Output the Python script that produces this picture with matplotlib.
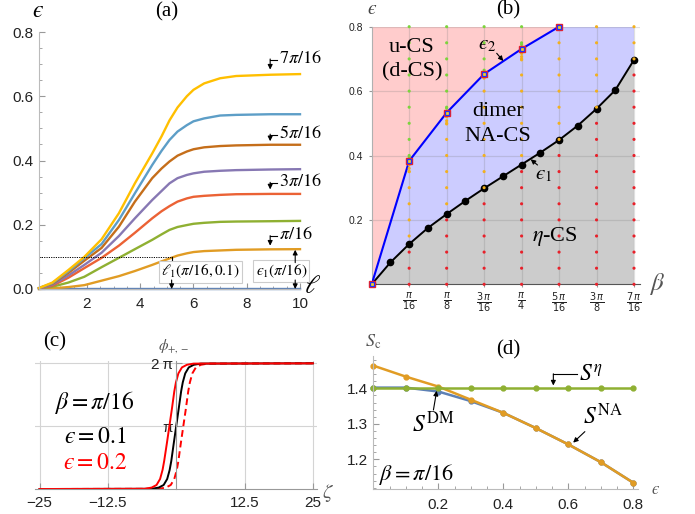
import numpy as np
import matplotlib.pyplot as plt
from matplotlib.ticker import MultipleLocator

plt.rcParams['mathtext.fontset'] = 'stix'
plt.rcParams['font.family'] = ['Liberation Sans', 'DejaVu Sans']

W, H = 695, 514
PI = np.pi
EPS = '\u03f5'  # lunate epsilon

# Mathematica default palette
C_BLUE, C_ORANGE, C_GREEN, C_RED = '#5E81B5', '#E19C24', '#8FB032', '#EB6235'
C_PURPLE, C_BROWN, C_LBLUE, C_YELLOW = '#8778B3', '#C56E1A', '#5D9EC7', '#FFBF00'

# ---------------- (a) eps(ell) for beta = k*pi/16 ----------------
ell = [0.2, 0.7, 1.3, 1.9, 2.55, 3.2, 3.8, 4.45, 4.8, 5.1, 5.4, 5.75, 6.0, 6.4, 7.0, 7.6, 8.9, 10.0]
eps_b0 = [0.0] * len(ell)
eps_b1 = [0.0, 0.002, 0.006, 0.012, 0.026, 0.040, 0.056, 0.075, 0.086, 0.095, 0.104, 0.111, 0.115, 0.118, 0.120, 0.122, 0.1235, 0.124]
eps_b2 = [0.001, 0.007, 0.020, 0.038, 0.068, 0.097, 0.124, 0.153, 0.170, 0.184, 0.193, 0.199, 0.203, 0.206, 0.209, 0.210, 0.211, 0.212]
eps_b3 = [0.002, 0.010, 0.035, 0.065, 0.097, 0.135, 0.175, 0.220, 0.242, 0.258, 0.272, 0.282, 0.287, 0.290, 0.293, 0.295, 0.296, 0.296]
eps_b4 = [0.002, 0.013, 0.042, 0.075, 0.113, 0.165, 0.220, 0.277, 0.305, 0.329, 0.345, 0.355, 0.360, 0.365, 0.368, 0.370, 0.372, 0.373]
eps_b5 = [0.003, 0.016, 0.050, 0.088, 0.128, 0.194, 0.272, 0.345, 0.375, 0.397, 0.415, 0.428, 0.435, 0.441, 0.445, 0.447, 0.449, 0.449]
eps_b6 = [0.003, 0.018, 0.055, 0.096, 0.140, 0.215, 0.298, 0.386, 0.430, 0.464, 0.490, 0.510, 0.522, 0.531, 0.540, 0.542, 0.544, 0.544]
eps_b7 = [0.003, 0.020, 0.059, 0.100, 0.155, 0.236, 0.329, 0.422, 0.475, 0.525, 0.565, 0.600, 0.620, 0.640, 0.656, 0.663, 0.667, 0.669]
curves_a = [eps_b0, eps_b1, eps_b2, eps_b3, eps_b4, eps_b5, eps_b6, eps_b7]
colors_a = [C_BLUE, C_ORANGE, C_GREEN, C_RED, C_PURPLE, C_BROWN, C_LBLUE, C_YELLOW]
labels_a = ['$7\\pi/16$', '$5\\pi/16$', '$3\\pi/16$', '$\\pi/16$']

# ---------------- (b) phase diagram ----------------
eps1 = [0.0, 0.068, 0.125, 0.175, 0.218, 0.259, 0.298, 0.335, 0.372, 0.409, 0.448, 0.493, 0.545, 0.603, 0.697]
beta1 = np.arange(len(eps1)) * PI / 32
eps2 = [0.0, 0.383, 0.533, 0.653, 0.731, 0.8]
beta2 = np.arange(len(eps2)) * PI / 16
grid_k = [1, 2, 3, 4, 5, 6, 7]
grid_eps = np.round(np.arange(0, 0.801, 0.05), 3)
extra_k = [1, 1, 1, 1, 2, 2, 2, 2, 3, 3, 4, 4, 4, 4]
extra_eps = [0.396, 0.371, 0.36, 0.35, 0.547, 0.52, 0.508, 0.498, 0.665, 0.64, 0.745, 0.717, 0.707, 0.697]
beta_ticklabels = [r'$\frac{\pi}{16}$', r'$\frac{\pi}{8}$', r'$\frac{3\,\pi}{16}$', r'$\frac{\pi}{4}$',
                   r'$\frac{5\,\pi}{16}$', r'$\frac{3\,\pi}{8}$', r'$\frac{7\,\pi}{16}$']

# ---------------- (c) kink profiles ----------------
zeta_black = [-25, -4.5, -3.2, -2.3, -1.65, -1.2, -0.9, -0.44, 0, 0.44, 0.9, 1.2, 1.65, 2.3, 3.2, 4.5, 25]
zeta_red = [-25, -5.8, -4.5, -3.6, -2.95, -2.5, -2.2, -1.7, -1.25, -0.8, -0.35, -0.05, 0.4, 1.05, 1.95, 3.2, 25]
zeta_red_dash = [-25, -3.2, -1.9, -1.0, -0.35, 0.1, 0.4, 0.85, 1.3, 1.75, 2.2, 2.5, 2.95, 3.6, 4.5, 5.8, 25]
phi_kink = [0, 0.01, 0.07, 0.2, 0.5, 0.95, 1.4, 2.3, 3.14, 3.98, 4.88, 5.33, 5.78, 6.08, 6.21, 6.27, 6.283]

# ---------------- (d) entropies ----------------
eps_d = [0.0, 0.1, 0.2, 0.3, 0.4, 0.5, 0.6, 0.7, 0.8]
S_eta = [1.402] * len(eps_d)
S_NA = [1.464, 1.433, 1.405, 1.368, 1.331, 1.288, 1.242, 1.192, 1.134]
S_DM = [1.402, 1.402, 1.391, 1.364, 1.331, 1.288, 1.242, 1.192, 1.134]

fig = plt.figure(figsize=(W / 100, H / 100), dpi=100)


def px_axes(x0, y0, x1, y1):
    return fig.add_axes([x0 / W, 1 - y1 / H, (x1 - x0) / W, (y1 - y0) / H])


def ftext(x, y, s, **kw):
    kw.setdefault('ha', 'center')
    kw.setdefault('va', 'center')
    fig.text(x / W, 1 - y / H, s, **kw)


def arrow(ax, tip, tail):
    ax.annotate('', xy=tip, xytext=tail, annotation_clip=False,
                arrowprops=dict(arrowstyle='-|>', lw=0.8, color='k', mutation_scale=7,
                                shrinkA=0, shrinkB=0))


def style_ticks(ax, size=11):
    ax.tick_params(which='both', direction='in', colors='#999999', labelcolor='#222222', labelsize=size)
    ax.tick_params(which='major', length=4)
    ax.tick_params(which='minor', length=2)


serif = dict(family='Liberation Serif')

# ===== (a) =====
ax = px_axes(38.5, 32, 300, 289)
for y, c in zip(curves_a, colors_a):
    ax.plot(ell, y, color=c, lw=1.7, solid_joinstyle='round', clip_on=False)
ax.plot([0.2, 5.18], [0.1, 0.1], ls=(0, (1.2, 1.2)), color='k', lw=0.7)
ax.set_xlim(0.18, 10)
ax.set_ylim(0, 0.8)
for s in ['top', 'right']:
    ax.spines[s].set_visible(False)
ax.spines['left'].set_color('#bbbbbb')
ax.spines['bottom'].set_color('#bbbbbb')
ax.set_xticks([2, 4, 6, 8, 10])
ax.set_yticks([0, 0.2, 0.4, 0.6, 0.8])
ax.set_yticklabels(['0.0', '0.2', '0.4', '0.6', '0.8'])
ax.xaxis.set_minor_locator(MultipleLocator(0.5))
ax.yaxis.set_minor_locator(MultipleLocator(0.05))
style_ticks(ax, 11)
ax.tick_params(axis='x', pad=6)

for lab, ytxt, ytip in zip(labels_a, [0.714, 0.48, 0.33, 0.164], [0.683, 0.46, 0.31, 0.135]):
    ax.plot([8.88, 9.12], [ytxt, ytxt], color='k', lw=0.8, clip_on=False)
    arrow(ax, (8.88, ytip), (8.88, ytxt + 0.002))
    ax.text(9.2, ytxt + 0.005, lab, fontsize=13, ha='left', va='center', clip_on=False)

ax.text(6.25, 0.054, r'$\ell_1(\pi/16, 0.1)$', fontsize=11, ha='center', va='center',
        bbox=dict(boxstyle='square,pad=0.15', fc='white', ec='#cccccc', lw=0.8))
ax.plot([5.18, 5.18], [0.1, 0.083], color='k', lw=0.8)
arrow(ax, (5.18, 0.0), (5.18, 0.028))
ax.text(9.3, 0.055, r'$%s_1(\pi/16)$' % EPS, fontsize=11, ha='center', va='center',
        bbox=dict(boxstyle='square,pad=0.15', fc='white', ec='#cccccc', lw=0.8), clip_on=False)
arrow(ax, (9.82, 0.122), (9.82, 0.082))
arrow(ax, (9.82, 0.0), (9.82, 0.028))

ftext(38, 11, r'$%s$' % EPS, fontsize=17)
ftext(167, 12, '(a)', fontsize=15, **serif)
ftext(313, 286, r'$\ell$', fontsize=19)

# ===== (b) =====
bmax = 7 * PI / 16
ax = px_axes(371.7, 26.7, 640, 284.3)
ax.set_xlim(0, bmax * 268.3 / 262.3)
ax.set_ylim(0, 0.8)


def bpx(x, y):
    # pixel position inside panel (b) -> data coordinates
    return ((x - 371.7) / 262.3 * bmax, (284.3 - y) / 257.6 * 0.8)


poly_gray = list(zip(beta1, eps1)) + [(bmax, 0), (0, 0)]
poly_blue = list(zip(beta2, eps2)) + [(bmax, 0.8)] + list(zip(beta1[::-1], eps1[::-1]))
poly_pink = [(0, 0)] + list(zip(beta2, eps2)) + [(0, 0.8)]
ax.fill(*zip(*poly_pink), color='#FFCCCC', lw=0, zorder=1)
ax.fill(*zip(*poly_blue), color='#CCCCFF', lw=0, zorder=1)
ax.fill(*zip(*poly_gray), color='#CCCCCC', lw=0, zorder=1)
for k in grid_k:
    ax.axvline(k * PI / 16, color='#808080', alpha=0.25, lw=0.9, zorder=2)
for e in [0.2, 0.4, 0.6, 0.8]:
    ax.axhline(e, color='#808080', alpha=0.25, lw=0.9, zorder=2)

ax.plot(beta1, eps1, color='k', lw=1.4, marker='o', ms=4.5, zorder=3)
ax.plot(beta2, eps2, color='#0000FF', lw=1.5, zorder=3)

e1_col = {k: eps1[2 * k] for k in grid_k}
e2_col = {k: (eps2[k] if k < len(eps2) else 9) for k in grid_k}
dot_x, dot_y, dot_c = [], [], []
for k in grid_k:
    for e in grid_eps:
        if e > e2_col[k] + 1e-6:
            c = '#7CD43C'
        elif e > e1_col[k] + 1e-6:
            c = '#F2B01E'
        else:
            c = '#E8202A'
        dot_x.append(k * PI / 16)
        dot_y.append(e)
        dot_c.append(c)
for k, e in zip(extra_k, extra_eps):
    dot_x.append(k * PI / 16)
    dot_y.append(e)
    dot_c.append('#7CD43C' if e > e2_col[k] else '#F2B01E')
ax.scatter(dot_x, dot_y, s=5, c=dot_c, lw=0, zorder=4, clip_on=False)
ax.plot(beta2, eps2, ls='none', marker='s', ms=5, mfc='#F2D21E', mec='#E8202A', mew=1.0,
        zorder=5, clip_on=False)
ax.plot(beta2, eps2, ls='none', marker='s', ms=2.3, mfc='none', mec='#2030FF', mew=0.9,
        zorder=6, clip_on=False)

for s in ['top', 'right']:
    ax.spines[s].set_visible(False)
ax.spines['left'].set_color('#b0b0b0')
ax.spines['bottom'].set_color('#555555')
ax.spines['left'].set_zorder(2.5)
ax.set_xticks([k * PI / 16 for k in grid_k])
ax.set_xticklabels(beta_ticklabels, math_fontfamily='dejavusans')
ax.set_yticks([0.2, 0.4, 0.6, 0.8])
ax.set_yticklabels(['0.2', '0.4', '0.6', '0.8'])
ax.tick_params(which='both', direction='out', length=2.5, colors='#999999', labelcolor='#222222',
               labelsize=7.5)
ax.tick_params(axis='x', labelsize=10, pad=2)

ftext(412, 48, 'u-CS', fontsize=16, **serif)
ftext(412, 72, '(d-CS)', fontsize=16, **serif)
ftext(498, 112, 'dimer', fontsize=16, **serif)
ftext(498, 137, 'NA-CS', fontsize=16, **serif)
ftext(555, 237, r'$\eta$-CS', fontsize=16, **serif)
ftext(486.7, 44, r'$%s_2$' % EPS, fontsize=15)
ftext(543.3, 174, r'$%s_1$' % EPS, fontsize=15)
arrow(ax, bpx(503.3, 61), bpx(496.7, 53.3))
arrow(ax, bpx(530.7, 159.3), bpx(537.5, 165))
ftext(371.7, 9, r'$%s$' % EPS, fontsize=14, color='#444444')
ftext(508, 10, '(b)', fontsize=15, **serif)
ftext(657, 284, r'$\beta$', fontsize=18, color='#555555')

# ===== (c) =====
ax = px_axes(35, 361, 316.7, 489)
ax.set_xlim(-25.83, 25.7)
ax.set_ylim(0, 6.40)
ax.plot(zeta_red_dash, phi_kink, color='#FF0000', lw=1.4, ls=(0, (3.5, 2)))
ax.plot(zeta_black, phi_kink, color='k', lw=1.4)
ax.plot(zeta_red, phi_kink, color='#FF0000', lw=1.4)
for s in ['top', 'right']:
    ax.spines[s].set_visible(False)
ax.spines['left'].set_position(('data', 0))
ax.spines['bottom'].set_position(('data', 0))
ax.spines['left'].set_color('#999999')
ax.spines['bottom'].set_color('#999999')
ax.set_xticks([-25, -12.5, 12.5, 25])
ax.set_xticklabels(['\u221225', '\u221212.5', '12.5', '25'])
ax.set_yticks([PI, 2 * PI])
ax.set_yticklabels(['\u03c0', '2\u2009\u03c0'])
ax.grid(True, color='#d4d4d4', lw=0.8)
ax.set_axisbelow(True)
style_ticks(ax, 11)
ax.tick_params(axis='x', pad=5)
ax.tick_params(axis='y', pad=2)
ftext(55, 342, '(c)', fontsize=15, **serif)
ftext(174, 346, r'$\phi_{+,-}$', fontsize=11, color='#555555')
ftext(328, 493, r'$\zeta$', fontsize=15, color='#555555')
ftext(95, 403, r'$\beta = \pi/16$', fontsize=17)
ftext(95, 437, r'$%s = 0.1$' % EPS, fontsize=17)
ftext(95, 463, r'$%s = 0.2$' % EPS, fontsize=17, color='#FF0000')

# ===== (d) =====
ax = px_axes(373.3, 356.4, 638, 489.3)
ax.set_xlim(0, 0.8145)
ax.set_ylim(1.1155, 1.49)
ax.plot(eps_d, S_DM, color=C_BLUE, lw=1.8, marker='o', ms=3.5, clip_on=False)
ax.plot(eps_d, S_NA, color=C_ORANGE, lw=1.8, marker='o', ms=3.5, clip_on=False)
ax.plot(eps_d, S_eta, color=C_GREEN, lw=1.8, marker='o', ms=3.5, clip_on=False)
for s in ['top', 'right']:
    ax.spines[s].set_visible(False)
ax.spines['left'].set_color('#bbbbbb')
ax.spines['bottom'].set_color('#bbbbbb')
ax.set_xticks([0.2, 0.4, 0.6, 0.8])
ax.set_yticks([1.2, 1.3, 1.4])
ax.xaxis.set_minor_locator(MultipleLocator(0.05))
ax.yaxis.set_minor_locator(MultipleLocator(0.02))
style_ticks(ax, 11)
ax.tick_params(axis='x', pad=6)

ax.plot([0.554, 0.628], [1.440, 1.440], color='k', lw=0.8)
arrow(ax, (0.554, 1.408), (0.554, 1.441))
ax.text(0.67, 1.436, r'$S^{\eta}$', fontsize=17, ha='center', va='center')
arrow(ax, (0.195, 1.393), (0.185, 1.339))
ax.text(0.185, 1.297, r'$S^{\mathrm{DM}}$', fontsize=17, ha='center', va='center')
arrow(ax, (0.615, 1.247), (0.651, 1.278))
ax.text(0.708, 1.320, r'$S^{\mathrm{NA}}$', fontsize=17, ha='center', va='center')
ax.text(0.133, 1.156, r'$\beta = \pi/16$', fontsize=16, ha='center', va='center')
ftext(373, 342, r'$S_{\mathrm{c}}$', fontsize=13, color='#555555')
ftext(508, 350, '(d)', fontsize=15, **serif)
ftext(655, 490, r'$%s$' % EPS, fontsize=12, color='#555555')

fig.savefig('out.png', dpi=100)
